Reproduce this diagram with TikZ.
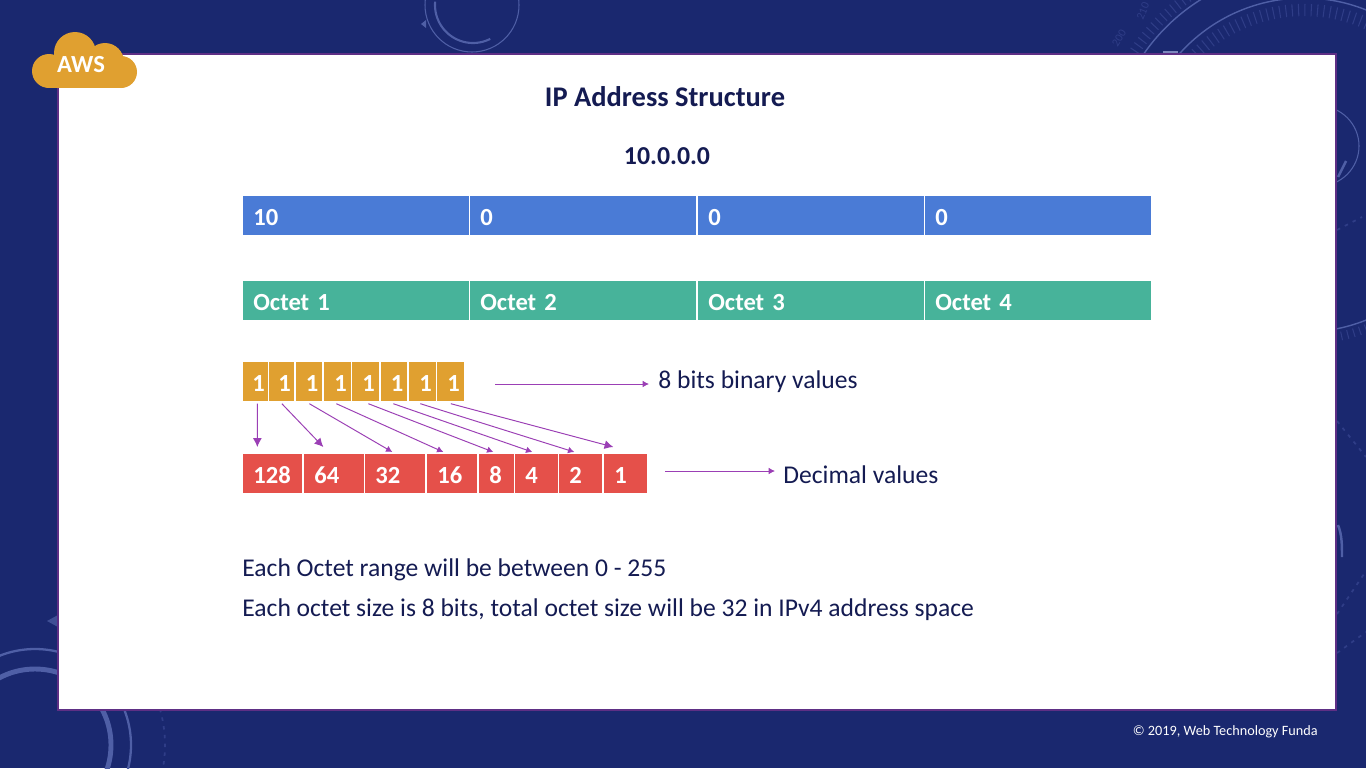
\documentclass[tikz,border=0pt]{standalone}
\usepackage{fontspec}
\usetikzlibrary{arrows.meta}
\setmainfont{Carlito}
\definecolor{navybg}{HTML}{1A286F}
\definecolor{ringblue}{HTML}{4F5FA6}
\definecolor{tickblue}{HTML}{2F3D87}
\definecolor{panelline}{HTML}{5E2F85}
\definecolor{inkblue}{HTML}{141B52}
\definecolor{fieldblue}{HTML}{4A7BD6}
\definecolor{fieldgreen}{HTML}{47B39A}
\definecolor{bitorange}{HTML}{E0A030}
\definecolor{decred}{HTML}{E5504A}
\definecolor{arrowpurple}{HTML}{9B3FB5}
\begin{document}
\begin{tikzpicture}[x=0.02cm, y=-0.02cm,
        textline/.style={anchor=west, inner sep=0, text=inkblue, font=\fontsize{14.56}{16}\selectfont},
        heading/.style={inner sep=0, text=inkblue, font=\fontsize{14.7}{16}\selectfont\bfseries},
        cell/.style={anchor=north west, inner xsep=0.2cm, inner ysep=0, text width=#1, text height=0.4cm, text depth=0cm, minimum height=0.78cm, align=left, text=white, font=\fontsize{14}{15}\selectfont\bfseries},
        bitcell/.style={anchor=north west, inner sep=0, minimum width=#1, text height=0.4cm, text depth=0cm, minimum height=0.78cm, fill=bitorange, text=white, font=\fontsize{14}{15}\selectfont\bfseries, execute at begin node={\hspace*{0.11cm}}},
        maparrow/.style={-{Latex[length=3.6pt,width=3.8pt]}, arrowpurple, line width=0.55pt},
        bigarrow/.style={-{Latex[length=5pt,width=5pt]}, arrowpurple, line width=0.55pt},
        ring/.style={ringblue, line width=#1},
        faintdots/.style={tickblue, line width=1pt, dash pattern=on 2pt off 3pt},
        ticks/.style={tickblue, line width=#1, dash pattern=on 0.6pt off 3pt}]
    \useasboundingbox (0,0) rectangle (1366,768);
    \clip (0,0) rectangle (1366,768);
    \fill[navybg] (0,0) rectangle (1366,768);

    % Rings at the top
    \draw[ring=0.6pt] (472,5) circle[radius=47];
    \draw[ring=1.2pt, domain=63:185, smooth, variable=\x, samples=40] plot ({473+38*cos(\x)}, {5+38*sin(\x)});
    \fill[ringblue] (421,24) -- (426,20) -- (426,28) -- cycle;

    % Rings at the top right
    \draw[ring=0.8pt] (1304,165) circle[radius=167];
    \draw[ring=0.8pt, domain=190:285, smooth, variable=\x, samples=60] plot ({1304+195*cos(\x)}, {165+195*sin(\x)});
    \draw[ticks=7pt, domain=200:340, smooth, variable=\x, samples=80] plot ({1304+155*cos(\x)}, {165+155*sin(\x)});
    \draw[ticks=6pt, domain=205:250, smooth, variable=\x, samples=40] plot ({1304+204*cos(\x)}, {165+204*sin(\x)});
    \draw[ticks=5pt, domain=65:80, smooth, variable=\x, samples=20] plot ({1304+175*cos(\x)}, {165+175*sin(\x)});
    \node[rotate=58, text=tickblue, font=\fontsize{6.5}{8}\selectfont] (ticktext1) at (1119,38) {200};
    \node[rotate=68, text=tickblue, font=\fontsize{6.5}{8}\selectfont] (ticktext2) at (1143,11) {210};

    % Marks on the right
    \draw[ring=0.6pt] (1319,146) circle[radius=40];
    \draw[ring=1.4pt] (1338,177) -- (1346,161);
    \draw[faintdots] (1337,230) -- (1362,217);
    \draw[faintdots] (1337,421) -- (1366,457);
    \draw[faintdots] (1337,614) -- (1366,571);
    \draw[faintdots] (1337,653) -- (1366,632);

    % Rings at the bottom left
    \draw[ring=2.8pt] (35,745) circle[radius=76];
    \draw[ring=1.3pt] (35,745) circle[radius=96];
    \draw[faintdots, domain=-20:25, smooth, variable=\x, samples=30] plot ({35+130*cos(\x)}, {745+130*sin(\x)});
    \fill[ringblue!70!navybg] (47,621) -- (58,615) -- (58,627) -- cycle;

    % Panel
    \fill[white, draw=panelline, line width=1.2pt] (58,54) rectangle (1336,710);
    \fill[ringblue!75!white] (1163,50.5) rectangle (1178,53);
    \draw[ring=1.4pt] (1338,525) .. controls (1342,535) and (1342,545) .. (1342,557);

    % Cloud
    \fill[bitorange] (75,53) circle[radius=21];
    \fill[bitorange] (105,62) circle[radius=19];
    \fill[bitorange] (49,71) circle[radius=17];
    \fill[bitorange] (121,72) circle[radius=16];
    \fill[bitorange] (49,62) rectangle (121,88);
    \node[text=white, font=\fontsize{14}{16}\selectfont\bfseries, inner sep=0] (awslabel) at (81,65) {AWS};

    % Titles
    \node[heading, font=\fontsize{16.2}{18}\selectfont\bfseries] (title) at (665,97) {IP Address Structure};
    \node[heading] (address) at (667,156) {10.0.0.0};

    % Address values
    \node[cell=4.12cm, fill=fieldblue] (val1) at (243,196) {10};
    \node[cell=4.12cm, fill=fieldblue] (val2) at (470,196) {0};
    \node[cell=4.12cm, fill=fieldblue] (val3) at (698,196) {0};
    \node[cell=4.12cm, fill=fieldblue] (val4) at (925,196) {0};

    % Octets
    \node[cell=4.12cm, fill=fieldgreen] (octet1) at (243,281) {Octet 1};
    \node[cell=4.12cm, fill=fieldgreen] (octet2) at (470,281) {Octet 2};
    \node[cell=4.12cm, fill=fieldgreen] (octet3) at (698,281) {Octet 3};
    \node[cell=4.12cm, fill=fieldgreen] (octet4) at (925,281) {Octet 4};

    % Binary values
    \node[bitcell=0.50cm] (bit1) at (243,362) {1};
    \node[bitcell=0.50cm] (bit2) at (269,362) {1};
    \node[bitcell=0.52cm] (bit3) at (296,362) {1};
    \node[bitcell=0.54cm] (bit4) at (324,362) {1};
    \node[bitcell=0.54cm] (bit5) at (352,362) {1};
    \node[bitcell=0.52cm] (bit6) at (381,362) {1};
    \node[bitcell=0.54cm] (bit7) at (409,362) {1};
    \node[bitcell=0.54cm] (bit8) at (437,362) {1};

    % Decimal values
    \node[cell=0.78cm, fill=decred] (dec1) at (243,454) {128};
    \node[cell=0.80cm, fill=decred] (dec2) at (304,454) {64};
    \node[cell=0.80cm, fill=decred] (dec3) at (365,454) {32};
    \node[cell=0.60cm, fill=decred] (dec4) at (427,454) {16};
    \node[cell=0.30cm, fill=decred] (dec5) at (479,454) {8};
    \node[cell=0.46cm, fill=decred] (dec6) at (515,454) {4};
    \node[cell=0.46cm, fill=decred] (dec7) at (559,454) {2};
    \node[cell=0.46cm, fill=decred] (dec8) at (604,454) {1};

    % Bit to decimal arrows
    \draw[bigarrow] ([shift={(1.5,2)}]bit1.south) -- ([shift={(-15.5,-7)}]dec1.north);
    \draw[bigarrow] ([shift={(0,2)}]bit2.south) -- ([shift={(-11,-7)}]dec2.north);
    \draw[maparrow] ([shift={(0,2)}]bit3.south) -- ([shift={(-3,-2)}]dec3.north);
    \draw[maparrow] ([shift={(-1.5,2)}]bit4.south) -- ([shift={(-9,-2)}]dec4.north);
    \draw[maparrow] ([shift={(2.5,2)}]bit5.south) -- ([shift={(-3.5,-2)}]dec5.north);
    \draw[maparrow] ([shift={(-1,2)}]bit6.south) -- ([shift={(-4.5,-2)}]dec6.north);
    \draw[maparrow] ([shift={(-2.5,2)}]bit7.south) -- ([shift={(-6.5,-2)}]dec7.north);
    \draw[bigarrow] ([shift={(0,2)}]bit8.south) -- ([shift={(-12.5,-7)}]dec8.north);

    % Side labels
    \node[textline] (binlabel) at (658,382) {8 bits binary values};
    \node[textline] (declabel) at (783,475) {Decimal values};
    \coordinate (binstart) at (495,384);
    \coordinate (decstart) at (665,471);
    \draw[maparrow] (binstart) -- ([shift={(-9,2)}]binlabel.west);
    \draw[maparrow] (decstart) -- ([shift={(-8,-4)}]declabel.west);

    % Notes
    \node[textline] (note1) at (242,570) {Each Octet range will be between 0 - 255};
    \node[textline] (note2) at (242,610) {Each octet size is 8 bits, total octet size will be 32 in IPv4 address space};

    % Footer
    \node[anchor=east, inner sep=0, text=white, font=\fontsize{8.1}{10}\selectfont] (footer) at (1318,732) {© 2019, Web Technology Funda};
\end{tikzpicture}
\end{document}
